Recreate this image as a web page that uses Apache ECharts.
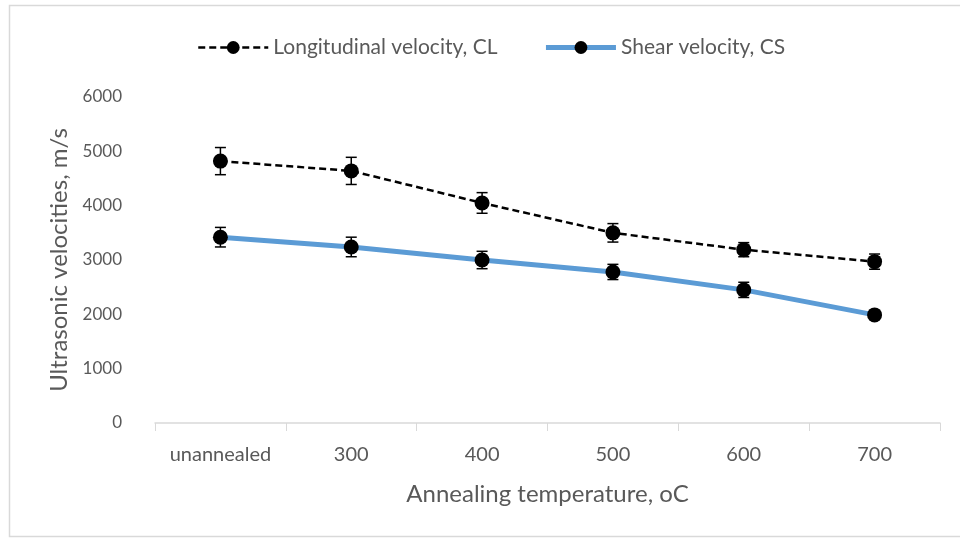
<!DOCTYPE html>
<html>
<head>
<meta charset="utf-8">
<script src="https://cdn.jsdelivr.net/npm/echarts@6/dist/echarts.min.js"></script>
<style>
  html, body { margin: 0; padding: 0; background: #fff; }
  #chart { width: 960px; height: 541px; }
</style>
</head>
<body>
<div id="chart"></div>
<script>
// datos
var categorias = ['unannealed', '300', '400', '500', '600', '700'];
var velLongitudinal = [4820, 4640, 4050, 3500, 3190, 2970];
var errLongitudinal = [250, 250, 190, 170, 130, 140];
var velCorte = [3420, 3240, 3000, 2780, 2450, 1990];
var errCorte = [180, 180, 160, 140, 140, 80];

var grisTexto = '#595959';
var fuente = 'Lato';

// barras de error dibujadas con las escalas de echarts
function barrasError(valores, errores) {
    var datos = valores.map(function (v, i) {
        return [i, v - errores[i], v + errores[i]];
    });
    return {
        type: 'custom',
        data: datos,
        z: 5,
        silent: true,
        renderItem: function (params, api) {
            var x = api.value(0);
            var bajo = api.coord([x, api.value(1)]);
            var alto = api.coord([x, api.value(2)]);
            var ancho = 5.5;
            var estilo = { stroke: '#000', lineWidth: 1.5 };
            return {
                type: 'group',
                children: [
                    { type: 'line', shape: { x1: bajo[0], y1: bajo[1], x2: alto[0], y2: alto[1] }, style: estilo },
                    { type: 'line', shape: { x1: bajo[0] - ancho, y1: bajo[1], x2: bajo[0] + ancho, y2: bajo[1] }, style: estilo },
                    { type: 'line', shape: { x1: alto[0] - ancho, y1: alto[1], x2: alto[0] + ancho, y2: alto[1] }, style: estilo }
                ]
            };
        }
    };
}

var chart = echarts.init(document.getElementById('chart'));

var option = {
    animation: false,
    textStyle: { fontFamily: fuente },
    graphic: [{
        type: 'rect',
        shape: { x: 9.5, y: 5.5, width: 960, height: 531 },
        style: { fill: 'none', stroke: '#d9d9d9', lineWidth: 1.5 },
        silent: true
    }],
    legend: {
        top: 32,
        left: 192,
        itemWidth: 70,
        itemHeight: 16,
        itemGap: 46,
        textStyle: { color: grisTexto, fontSize: 21, fontFamily: fuente },
        data: [
            { name: 'Longitudinal velocity, CL', lineStyle: { width: 2.5 } },
            { name: 'Shear velocity, CS', lineStyle: { width: 5 } }
        ]
    },
    grid: {
        left: 155,
        right: 20,
        top: 97,
        bottom: 118
    },
    xAxis: {
        type: 'category',
        data: categorias,
        boundaryGap: true,
        name: 'Annealing temperature, oC',
        nameLocation: 'middle',
        nameGap: 59,
        nameTextStyle: { color: grisTexto, fontSize: 24, fontFamily: fuente },
        axisLine: { lineStyle: { color: '#d9d9d9', width: 1.5 } },
        axisTick: { show: true, interval: 0, length: 8, inside: false, lineStyle: { color: '#d9d9d9' } },
        axisLabel: { interval: 0, color: grisTexto, fontSize: 20, margin: 22, fontFamily: fuente },
        splitLine: { show: false }
    },
    yAxis: {
        type: 'value',
        min: 0,
        max: 6000,
        interval: 1000,
        name: 'Ultrasonic velocities, m/s',
        nameLocation: 'middle',
        nameGap: 83,
        nameRotate: 90,
        nameTextStyle: { color: grisTexto, fontSize: 24, fontFamily: fuente },
        axisLine: { show: false },
        axisTick: { show: false },
        axisLabel: {
            color: grisTexto, fontSize: 17, margin: 33, fontFamily: fuente,
            formatter: function (v) { return String(v); }
        },
        splitLine: { show: false }
    },
    series: [
        {
            name: 'Longitudinal velocity, CL',
            type: 'line',
            data: velLongitudinal,
            symbol: 'circle',
            symbolSize: 15,
            z: 4,
            itemStyle: { color: '#000' },
            lineStyle: { color: '#000', width: 2.5, type: [7, 4] }
        },
        {
            name: 'Shear velocity, CS',
            type: 'line',
            data: velCorte,
            symbol: 'circle',
            symbolSize: 15,
            z: 3,
            itemStyle: { color: '#000' },
            lineStyle: { color: '#5B9BD5', width: 5 }
        },
        barrasError(velLongitudinal, errLongitudinal),
        barrasError(velCorte, errCorte)
    ]
};

chart.setOption(option);
</script>
</body>
</html>
